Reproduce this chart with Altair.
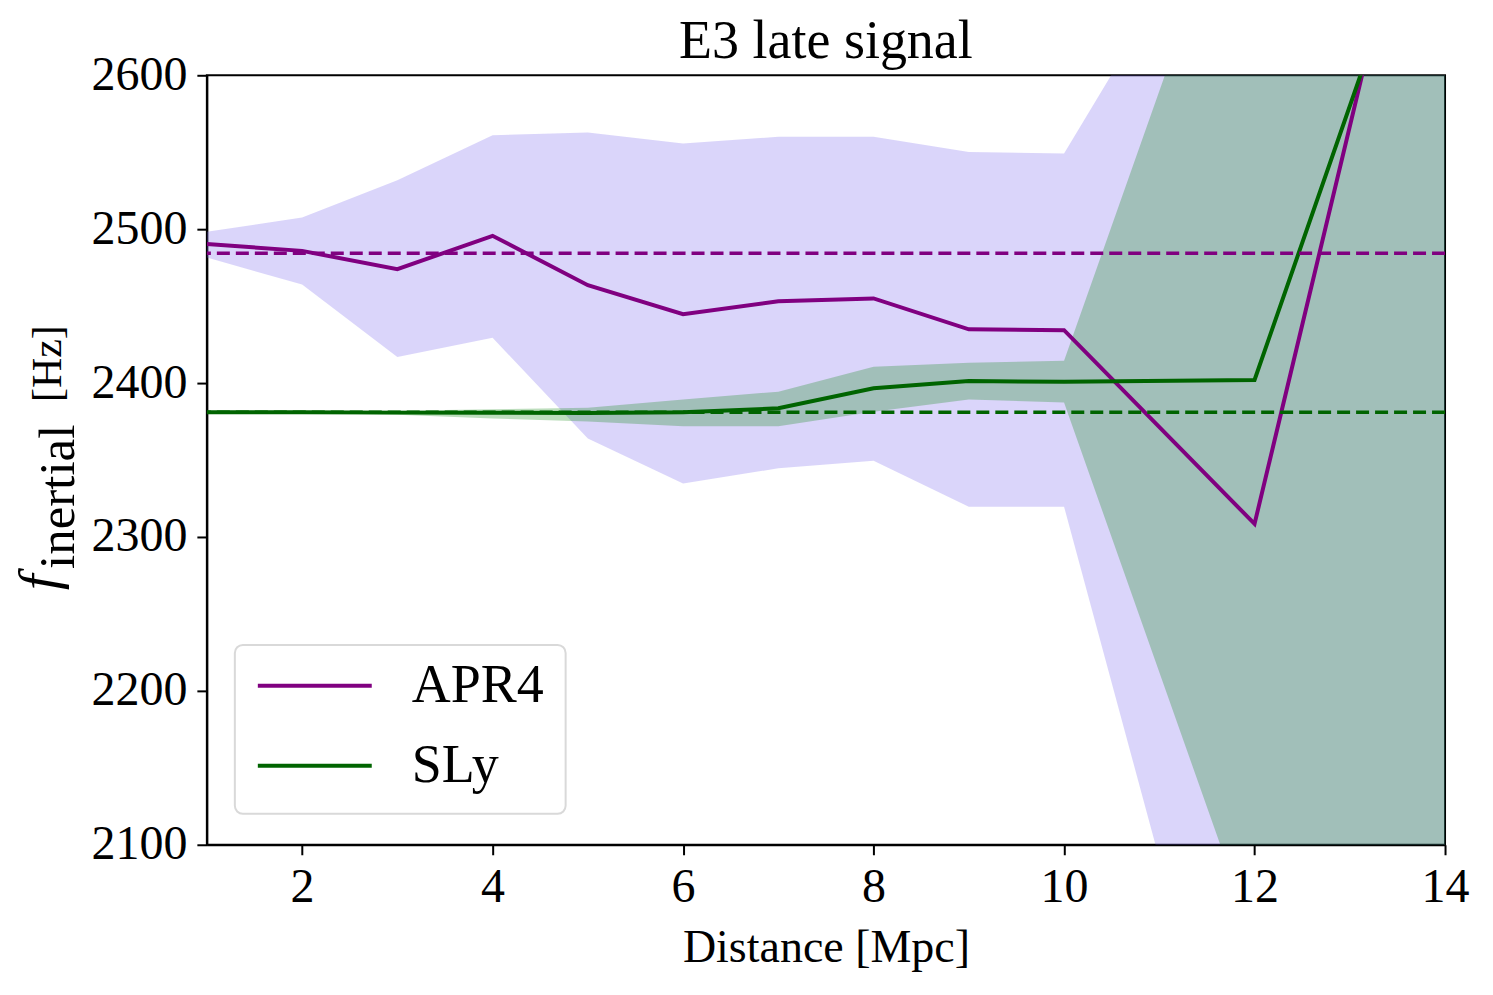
import altair as alt
import pandas as pd

# ---------------- data ----------------
distance = [1, 2, 3, 4, 5, 6, 7, 8, 9, 10, 12, 14]

apr4_f = [2490.3, 2485.9, 2474.0, 2495.7, 2463.6, 2444.8, 2453.2, 2455.0, 2434.9, 2434.4, 2308.5, 2825.0]
apr4_lo = [2481.6, 2464.0, 2417.0, 2429.4, 2364.0, 2334.8, 2344.6, 2349.6, 2319.7, 2319.7, 1862.0, 1750.0]
apr4_hi = [2498.3, 2507.6, 2531.8, 2561.0, 2562.8, 2555.6, 2560.0, 2560.0, 2550.2, 2549.1, 2755.0, 3900.0]

sly_f = [2381.0, 2381.0, 2380.8, 2380.7, 2380.6, 2381.0, 2383.6, 2396.6, 2401.3, 2400.9, 2402.0, 2758.0]
sly_lo = [2380.7, 2380.6, 2379.5, 2377.0, 2375.0, 2372.0, 2372.0, 2381.4, 2389.4, 2387.3, 2037.0, 1650.0]
sly_hi = [2381.3, 2381.5, 2382.0, 2383.0, 2384.0, 2389.4, 2394.4, 2410.6, 2413.2, 2414.5, 2765.0, 3850.0]

eos_names = ["APR4", "SLy"]
eos_colors = ["#800080", "#006400"]
reference_f = [2484.4, 2381.0]

x_ticks = [2, 4, 6, 8, 10, 12, 14]
y_ticks = [2100, 2200, 2300, 2400, 2500, 2600]

title_text = "E3 late signal"
FONT = "Liberation Serif"

# ---------------- tables ----------------
band_apr4 = pd.DataFrame({"d": distance, "lo": apr4_lo, "hi": apr4_hi})
band_sly = pd.DataFrame({"d": distance, "lo": sly_lo, "hi": sly_hi})
lines = pd.DataFrame({
    "d": distance * 2,
    "f": apr4_f + sly_f,
    "eos": [eos_names[0]] * len(distance) + [eos_names[1]] * len(distance),
})
ref_apr4 = pd.DataFrame({"f": [reference_f[0]]})
ref_sly = pd.DataFrame({"f": [reference_f[1]]})

xscale = alt.Scale(domain=[1, 14], nice=False, zero=False)
yscale = alt.Scale(domain=[2100, 2600], nice=False, zero=False)

xax = alt.Axis(values=x_ticks, format="d", title="Distance [Mpc]", labelPadding=9,
               labelFlush=False,
               titleFontSize=46, titleFont=FONT, titleFontWeight="normal",
               titleY=117, titleBaseline="alphabetic", titleColor="black")
yax = alt.Axis(values=y_ticks, format="d", title=None, labelPadding=10,
               labelFlush=False)

X = alt.X("d:Q", scale=xscale, axis=xax)
Y = alt.Y("lo:Q", scale=yscale, axis=yax)

area_apr4 = alt.Chart(band_apr4).mark_area(
    color="mediumslateblue", opacity=0.28, clip=True
).encode(x=X, y=Y, y2="hi:Q")

area_sly = alt.Chart(band_sly).mark_area(
    color="green", opacity=0.26, clip=True
).encode(x=X, y=Y, y2="hi:Q")

line_layer = alt.Chart(lines).mark_line(strokeWidth=4, clip=True).encode(
    x=X,
    y=alt.Y("f:Q", scale=yscale, axis=yax),
    color=alt.Color(
        "eos:N",
        scale=alt.Scale(domain=eos_names, range=eos_colors),
        legend=alt.Legend(
            orient="none", legendX=28, legendY=570, title=None,
            symbolType="stroke", symbolSize=12996, symbolStrokeWidth=4,
            clipHeight=40, rowPadding=26, labelOffset=38,
            labelFontSize=54, labelFont=FONT, labelColor="black",
            padding=21, cornerRadius=8, strokeColor="#d9d9d9",
            fillColor="rgba(255,255,255,0.8)",
        ),
    ),
    detail="eos:N",
)

rule_apr4 = alt.Chart(ref_apr4).mark_rule(
    color=eos_colors[0], strokeWidth=3.5, strokeDash=[13, 6]
).encode(y=alt.Y("f:Q", scale=yscale, axis=yax))
rule_sly = alt.Chart(ref_sly).mark_rule(
    color=eos_colors[1], strokeWidth=3.5, strokeDash=[13, 6]
).encode(y=alt.Y("f:Q", scale=yscale, axis=yax))

dummy = pd.DataFrame({"k": [0]})
title_mark = alt.Chart(dummy).mark_text(
    text=title_text, font=FONT, fontSize=54, align="center",
    baseline="alphabetic", color="black"
).encode(x=alt.value(619.5), y=alt.value(-17))
ylab_f = alt.Chart(dummy).mark_text(
    text="f", angle=270, font=FONT, fontStyle="italic", fontSize=56,
    align="left", baseline="alphabetic", color="black"
).encode(x=alt.value(-150), y=alt.value(515))
ylab_sub = alt.Chart(dummy).mark_text(
    text="inertial", angle=270, font=FONT, fontSize=51,
    align="left", baseline="alphabetic", color="black"
).encode(x=alt.value(-133), y=alt.value(494))
ylab_hz = alt.Chart(dummy).mark_text(
    text="[Hz]", angle=270, font=FONT, fontSize=42,
    align="left", baseline="alphabetic", color="black"
).encode(x=alt.value(-146), y=alt.value(327))

chart = alt.layer(
    area_apr4, area_sly, line_layer, rule_apr4, rule_sly,
    title_mark, ylab_f, ylab_sub, ylab_hz,
).properties(
    width=1239, height=770,
    autosize=alt.AutoSizeParams(type="none"),
    padding={"left": 199, "top": 67, "right": 40, "bottom": 140},
).configure_view(
    stroke="black", strokeWidth=2
).configure_axis(
    labelFont=FONT, labelFontSize=48, labelColor="black",
    tickColor="black", tickSize=10, tickWidth=2,
    domainColor="black", domainWidth=2, grid=False,
).configure_legend(
    strokeWidth=2
)

chart.save("out.html", embed_options={"renderer": "svg", "actions": False})
